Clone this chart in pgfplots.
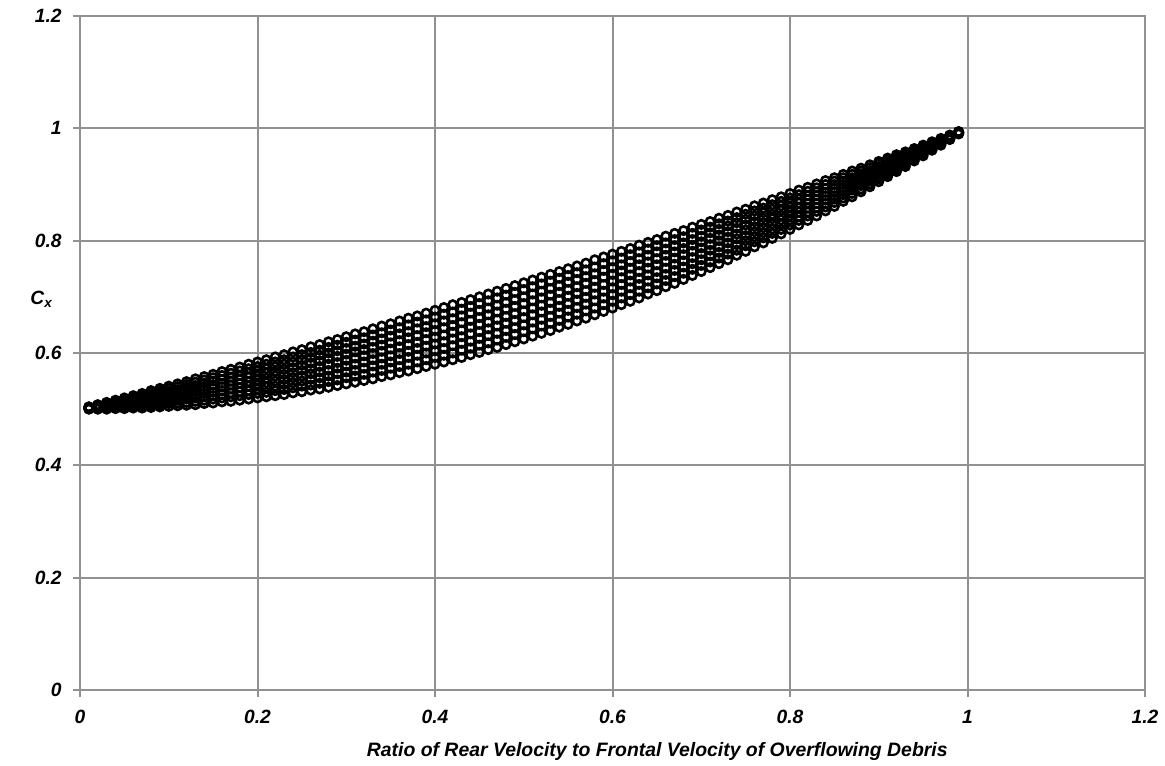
\documentclass[border=0pt]{standalone}
\usepackage{pgfplots}
\pgfplotsset{compat=1.18}
\usepackage{pgfplotstable}
\usepackage{fontspec}
\setmainfont{Liberation Sans}
\definecolor{gridgray}{RGB}{145,145,145}

% Cx for rear/frontal velocity ratio r, one column per curve
\pgfplotstableread{
r    c0    c1    c2    c3    c4    c5    c6    c7    c8
0.01 0.500 0.501 0.501 0.502 0.502 0.503 0.503 0.504 0.504
0.02 0.500 0.501 0.502 0.503 0.504 0.505 0.506 0.507 0.508
0.03 0.500 0.502 0.503 0.505 0.506 0.508 0.509 0.511 0.512
0.04 0.501 0.503 0.505 0.507 0.508 0.510 0.512 0.514 0.516
0.05 0.501 0.504 0.506 0.508 0.511 0.513 0.516 0.518 0.520
0.06 0.502 0.505 0.507 0.510 0.513 0.516 0.519 0.522 0.524
0.07 0.502 0.506 0.509 0.512 0.515 0.519 0.522 0.525 0.528
0.08 0.503 0.507 0.511 0.514 0.518 0.522 0.525 0.529 0.533
0.09 0.504 0.508 0.512 0.516 0.520 0.525 0.529 0.533 0.537
0.10 0.505 0.510 0.514 0.519 0.523 0.528 0.532 0.537 0.541
0.11 0.506 0.511 0.516 0.521 0.526 0.531 0.535 0.540 0.545
0.12 0.507 0.512 0.518 0.523 0.528 0.534 0.539 0.544 0.549
0.13 0.508 0.514 0.520 0.525 0.531 0.537 0.542 0.548 0.554
0.14 0.510 0.516 0.522 0.528 0.534 0.540 0.546 0.552 0.558
0.15 0.511 0.518 0.524 0.530 0.537 0.543 0.550 0.556 0.562
0.16 0.513 0.520 0.526 0.533 0.540 0.546 0.553 0.560 0.567
0.17 0.514 0.522 0.529 0.536 0.543 0.550 0.557 0.564 0.571
0.18 0.516 0.524 0.531 0.538 0.546 0.553 0.560 0.568 0.575
0.19 0.518 0.526 0.533 0.541 0.549 0.557 0.564 0.572 0.580
0.20 0.520 0.528 0.536 0.544 0.552 0.560 0.568 0.576 0.584
0.21 0.522 0.530 0.539 0.547 0.555 0.564 0.572 0.580 0.588
0.22 0.524 0.533 0.541 0.550 0.559 0.567 0.576 0.584 0.593
0.23 0.526 0.535 0.544 0.553 0.562 0.571 0.580 0.588 0.597
0.24 0.529 0.538 0.547 0.556 0.565 0.574 0.584 0.593 0.602
0.25 0.531 0.541 0.550 0.559 0.569 0.578 0.588 0.597 0.606
0.26 0.534 0.543 0.553 0.563 0.572 0.582 0.592 0.601 0.611
0.27 0.536 0.546 0.556 0.566 0.576 0.586 0.596 0.605 0.615
0.28 0.539 0.549 0.559 0.569 0.580 0.590 0.600 0.610 0.620
0.29 0.542 0.552 0.563 0.573 0.583 0.594 0.604 0.614 0.624
0.30 0.545 0.556 0.566 0.577 0.587 0.598 0.608 0.619 0.629
0.31 0.548 0.559 0.569 0.580 0.591 0.602 0.612 0.623 0.634
0.32 0.551 0.562 0.573 0.584 0.595 0.606 0.616 0.627 0.638
0.33 0.554 0.566 0.577 0.588 0.599 0.610 0.621 0.632 0.643
0.34 0.558 0.569 0.580 0.591 0.603 0.614 0.625 0.636 0.648
0.35 0.561 0.573 0.584 0.595 0.607 0.618 0.630 0.641 0.652
0.36 0.565 0.576 0.588 0.599 0.611 0.622 0.634 0.645 0.657
0.37 0.568 0.580 0.592 0.603 0.615 0.627 0.638 0.650 0.662
0.38 0.572 0.584 0.596 0.608 0.619 0.631 0.643 0.655 0.666
0.39 0.576 0.588 0.600 0.612 0.624 0.636 0.647 0.659 0.671
0.40 0.580 0.592 0.604 0.616 0.628 0.640 0.652 0.664 0.676
0.41 0.584 0.596 0.608 0.620 0.632 0.645 0.657 0.669 0.681
0.42 0.588 0.600 0.613 0.625 0.637 0.649 0.661 0.673 0.686
0.43 0.592 0.605 0.617 0.629 0.641 0.654 0.666 0.678 0.690
0.44 0.597 0.609 0.621 0.634 0.646 0.658 0.671 0.683 0.695
0.45 0.601 0.614 0.626 0.638 0.651 0.663 0.676 0.688 0.700
0.46 0.606 0.618 0.631 0.643 0.655 0.668 0.680 0.693 0.705
0.47 0.610 0.623 0.635 0.648 0.660 0.673 0.685 0.698 0.710
0.48 0.615 0.628 0.640 0.653 0.665 0.678 0.690 0.703 0.715
0.49 0.620 0.633 0.645 0.658 0.670 0.683 0.695 0.708 0.720
0.50 0.625 0.638 0.650 0.663 0.675 0.688 0.700 0.713 0.725
0.51 0.630 0.643 0.655 0.668 0.680 0.693 0.705 0.718 0.730
0.52 0.635 0.648 0.660 0.673 0.685 0.698 0.710 0.723 0.735
0.53 0.640 0.653 0.665 0.678 0.690 0.703 0.715 0.728 0.740
0.54 0.646 0.658 0.671 0.683 0.695 0.708 0.720 0.733 0.745
0.55 0.651 0.664 0.676 0.688 0.701 0.713 0.726 0.738 0.750
0.56 0.657 0.669 0.681 0.694 0.706 0.718 0.731 0.743 0.755
0.57 0.662 0.675 0.687 0.699 0.711 0.724 0.736 0.748 0.760
0.58 0.668 0.680 0.693 0.705 0.717 0.729 0.741 0.753 0.766
0.59 0.674 0.686 0.698 0.710 0.722 0.735 0.747 0.759 0.771
0.60 0.680 0.692 0.704 0.716 0.728 0.740 0.752 0.764 0.776
0.61 0.686 0.698 0.710 0.722 0.734 0.746 0.757 0.769 0.781
0.62 0.692 0.704 0.716 0.728 0.739 0.751 0.763 0.775 0.786
0.63 0.698 0.710 0.722 0.733 0.745 0.757 0.768 0.780 0.792
0.64 0.705 0.716 0.728 0.739 0.751 0.762 0.774 0.785 0.797
0.65 0.711 0.723 0.734 0.745 0.757 0.768 0.780 0.791 0.802
0.66 0.718 0.729 0.740 0.751 0.763 0.774 0.785 0.796 0.808
0.67 0.724 0.736 0.747 0.758 0.769 0.780 0.791 0.802 0.813
0.68 0.731 0.742 0.753 0.764 0.775 0.786 0.796 0.807 0.818
0.69 0.738 0.749 0.759 0.770 0.781 0.792 0.802 0.813 0.824
0.70 0.745 0.756 0.766 0.777 0.787 0.798 0.808 0.819 0.829
0.71 0.752 0.762 0.773 0.783 0.793 0.804 0.814 0.824 0.834
0.72 0.759 0.769 0.779 0.789 0.800 0.810 0.820 0.830 0.840
0.73 0.766 0.776 0.786 0.796 0.806 0.816 0.826 0.835 0.845
0.74 0.774 0.783 0.793 0.803 0.812 0.822 0.832 0.841 0.851
0.75 0.781 0.791 0.800 0.809 0.819 0.828 0.838 0.847 0.856
0.76 0.789 0.798 0.807 0.816 0.825 0.834 0.844 0.853 0.862
0.77 0.796 0.805 0.814 0.823 0.832 0.841 0.850 0.858 0.867
0.78 0.804 0.813 0.821 0.830 0.839 0.847 0.856 0.864 0.873
0.79 0.812 0.820 0.829 0.837 0.845 0.854 0.862 0.870 0.878
0.80 0.820 0.828 0.836 0.844 0.852 0.860 0.868 0.876 0.884
0.81 0.828 0.836 0.843 0.851 0.859 0.867 0.874 0.882 0.890
0.82 0.836 0.844 0.851 0.858 0.866 0.873 0.880 0.888 0.895
0.83 0.844 0.852 0.859 0.866 0.873 0.880 0.887 0.894 0.901
0.84 0.853 0.860 0.866 0.873 0.880 0.886 0.893 0.900 0.907
0.85 0.861 0.868 0.874 0.880 0.887 0.893 0.900 0.906 0.912
0.86 0.870 0.876 0.882 0.888 0.894 0.900 0.906 0.912 0.918
0.87 0.878 0.884 0.890 0.895 0.901 0.907 0.912 0.918 0.924
0.88 0.887 0.892 0.898 0.903 0.908 0.914 0.919 0.924 0.929
0.89 0.896 0.901 0.906 0.911 0.916 0.921 0.925 0.930 0.935
0.90 0.905 0.910 0.914 0.919 0.923 0.928 0.932 0.937 0.941
0.91 0.914 0.918 0.922 0.926 0.930 0.935 0.939 0.943 0.947
0.92 0.923 0.927 0.931 0.934 0.938 0.942 0.945 0.949 0.953
0.93 0.932 0.936 0.939 0.942 0.945 0.949 0.952 0.955 0.958
0.94 0.942 0.945 0.947 0.950 0.953 0.956 0.959 0.962 0.964
0.95 0.951 0.954 0.956 0.958 0.961 0.963 0.966 0.968 0.970
0.96 0.961 0.963 0.965 0.967 0.968 0.970 0.972 0.974 0.976
0.97 0.970 0.972 0.973 0.975 0.976 0.978 0.979 0.981 0.982
0.98 0.980 0.981 0.982 0.983 0.984 0.985 0.986 0.987 0.988
0.99 0.990 0.991 0.991 0.992 0.992 0.993 0.993 0.994 0.994
}\cxdata

\begin{document}
\begin{tikzpicture}
\begin{axis}[
  scale only axis,
  width=532.5pt, height=337pt,
  xmin=0, xmax=1.2, ymin=0, ymax=1.2,
  xtick={0,0.2,0.4,0.6,0.8,1,1.2},
  ytick={0,0.2,0.4,0.6,0.8,1,1.2},
  grid=major,
  grid style={gridgray, line width=1pt},
  axis line style={gridgray, line width=1pt},
  tick style={gridgray, line width=1pt},
  tick align=outside,
  major tick length=3.5pt,
  xtick pos=left, ytick pos=left,
  /pgf/number format/assume math mode=true,
  ticklabel style={font=\fontsize{9.6}{11}\selectfont\bfseries\itshape, text=black},
  yticklabel style={anchor=east, inner sep=0pt, xshift=-5.5pt},
  xticklabel style={anchor=north, inner sep=0pt, yshift=-6.5pt},
  xlabel={Ratio of Rear Velocity to Frontal Velocity of Overflowing Debris},
  xlabel style={font=\fontsize{9.7}{11}\selectfont\bfseries\itshape,
    at={(axis description cs:0.542,-0.091)}, anchor=center},
  clip=false,
]
\pgfplotsinvokeforeach{0,...,8}{
  \addplot[only marks, mark=o, mark size=2.1pt, line width=1.3pt, black,
    mark options={fill=white}] table[x=r, y=c#1] {\cxdata};
}
\node[font=\fontsize{9.6}{11}\selectfont\bfseries\itshape]
  at (axis description cs:-0.036,0.58) {C\textsubscript{x}};
\end{axis}
\pgfresetboundingbox
\path (-40pt,-37.5pt) rectangle (542.5pt,345pt);
\end{tikzpicture}
\end{document}
